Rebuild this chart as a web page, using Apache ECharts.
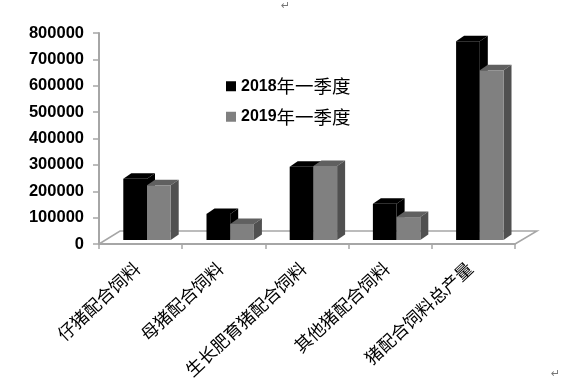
<!DOCTYPE html>
<html><head><meta charset="utf-8">
<style>html,body{margin:0;padding:0;background:#fff}#c{width:564px;height:386px}</style>
<script src="https://cdn.jsdelivr.net/npm/echarts@6/dist/echarts.min.js"></script>
</head><body><div id="c"></div>
<script>
const categories = ['仔猪配合饲料','母猪配合饲料','生长肥育猪配合饲料','其他猪配合饲料','猪配合饲料总产量'];
const seriesNames = ['2018年一季度','2019年一季度'];
const values2018 = [232000, 99000, 278000, 137000, 754000];
const values2019 = [208000, 61000, 281000, 87000, 644000];
const yTickStep = 100000;
const yMax = 800000;

const chart = echarts.init(document.getElementById('c'));
const DX = 8, DY = 5.5;
function barRenderer(pos, front, side, top) {
  return function (params, api) {
    const band = api.size([1, 0])[0];
    const w = band * 0.285;
    const c = api.coord([api.value(0), 0]);
    const t = api.coord([api.value(0), api.value(1)]);
    const x = c[0] + band * 0.077 + (pos === 0 ? -w : 0);
    const base = c[1] - 4, y = t[1] - 4 + 0;
    return { type: 'group', children: [
      { type: 'polygon', shape: { points: [[x, y], [x + DX, y - DY], [x + w + DX, y - DY], [x + w, y]] }, style: { fill: top } },
      { type: 'polygon', shape: { points: [[x + w, y], [x + w + DX, y - DY], [x + w + DX, base - DY], [x + w, base]] }, style: { fill: side } },
      { type: 'rect', shape: { x: x, y: y, width: w, height: base - y }, style: { fill: front } }
    ]};
  };
}
function floorRenderer(params, api) {
  const band = api.size([1, 0])[0];
  const c = api.coord([0, 0]);
  const l = c[0] - band / 2, r = l + band * categories.length, b = c[1];
  return { type: 'polyline', shape: { points: [[l, b], [l + 21, b - 13], [r + 22, b - 13], [r, b]] },
    style: { fill: 'none', stroke: '#a6a6a6', lineWidth: 1.5 } };
}
const latin = 'Liberation Sans', cjk = 'Noto Sans CJK SC';
chart.setOption({
  animation: false,
  backgroundColor: '#fff',
  grid: { left: 99, right: 49, top: 33, bottom: 142 },
  legend: {
    data: seriesNames, left: 226, top: 77, padding: 0, orient: 'vertical', itemWidth: 10, itemHeight: 10, itemGap: 12,
    icon: 'rect', selectedMode: false,
    formatter: n => '{a|' + n.slice(0, 4) + '}{b|' + n.slice(4) + '}',
    textStyle: { rich: {
      a: { fontFamily: latin, fontWeight: 'bold', fontSize: 16, color: '#000' },
      b: { fontFamily: cjk, fontSize: 18.5, color: '#000' } } }
  },
  xAxis: {
    type: 'category', data: categories,
    axisLine: { lineStyle: { color: '#a6a6a6', width: 2 } },
    axisTick: { show: true, length: 5, alignWithLabel: false, lineStyle: { color: '#a6a6a6', width: 1.5 } },
    axisLabel: { interval: 0, rotate: 43, margin: 18, padding: [0, 5, 0, 0], fontFamily: cjk, fontSize: 17.5, color: '#000' }
  },
  yAxis: {
    type: 'value', min: 0, max: yMax, interval: yTickStep,
    splitLine: { show: false },
    axisLine: { show: true, lineStyle: { color: '#a6a6a6', width: 2 } },
    axisTick: { show: true, length: 6, lineStyle: { color: '#a6a6a6', width: 1.5 } },
    axisLabel: { margin: 15, padding: [3, 0, 0, 0], fontFamily: latin, fontWeight: 'bold', fontSize: 16.5, color: '#000', formatter: v => String(v) }
  },
  series: [
    { type: 'custom', name: 'floor', silent: true, clip: false, renderItem: floorRenderer, data: [[0, 0]], encode: { x: 0, y: 1 } },
    { type: 'custom', name: seriesNames[0], clip: false, itemStyle: { color: '#000' },
      renderItem: barRenderer(0, '#000', '#000', '#000'),
      data: values2018.map((v, i) => [i, v]), encode: { x: 0, y: 1 } },
    { type: 'custom', name: seriesNames[1], clip: false, itemStyle: { color: '#808080' },
      renderItem: barRenderer(1, '#808080', '#505050', '#606060'),
      data: values2019.map((v, i) => [i, v]), encode: { x: 0, y: 1 } }
  ],
  graphic: [
    { type: 'text', left: 281, top: 1, style: { text: '↵', fontSize: 11, fill: '#777', fontFamily: 'DejaVu Sans' } },
    { type: 'text', left: 551, top: 369, style: { text: '↵', fontSize: 11, fill: '#777', fontFamily: 'DejaVu Sans' } }
  ]
});
</script></body></html>
